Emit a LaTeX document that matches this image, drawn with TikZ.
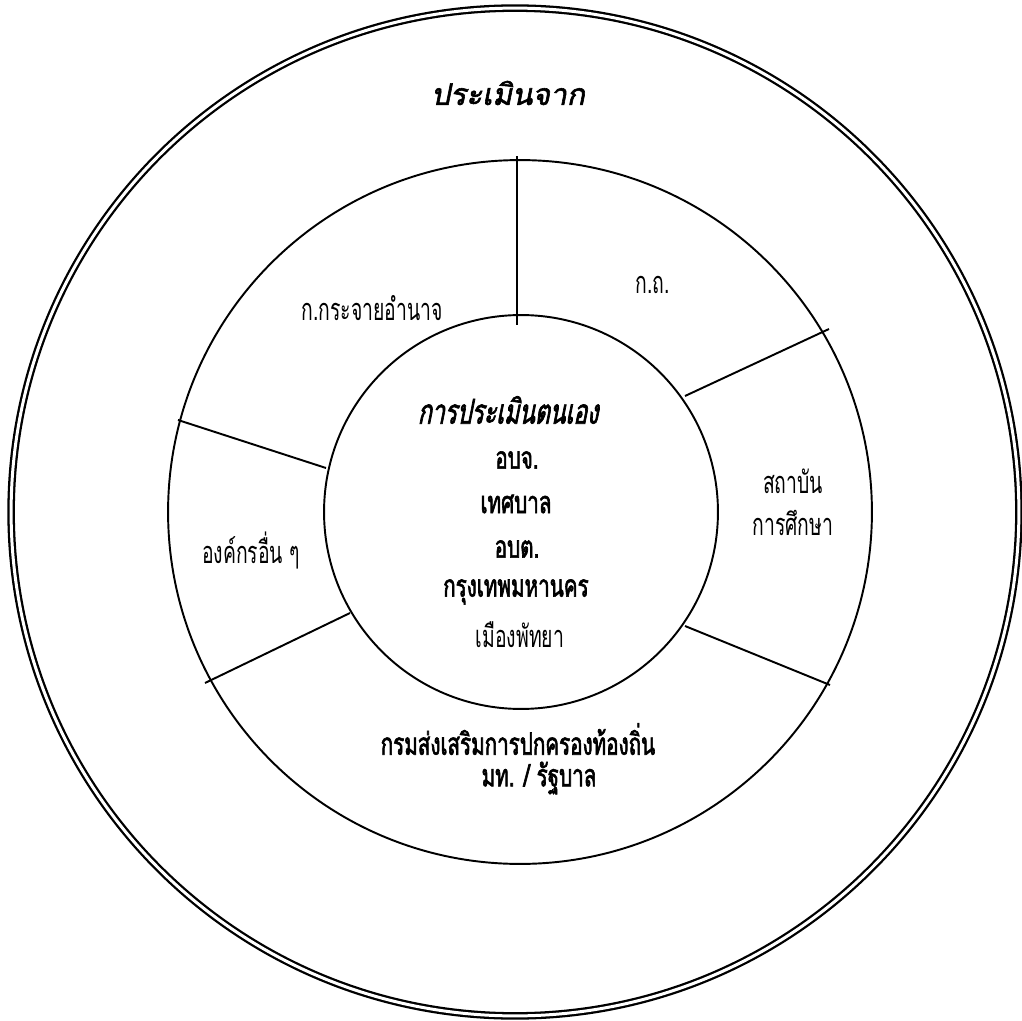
\documentclass[tikz,border=0pt]{standalone}
\usepackage{fontspec}
\usepackage{tikz}
\usetikzlibrary{positioning}
\newfontfamily\thaifont[Script=Thai, AutoFakeBold=2, AutoFakeSlant=0.2]{Loma}
\newfontfamily\thainarrow[Script=Thai, FakeStretch=0.63, AutoFakeBold=2, AutoFakeSlant=0.2]{Loma}
\newfontfamily\thaiboldnarrow[Script=Thai, FakeStretch=0.67, AutoFakeBold=2, AutoFakeSlant=0.2]{Loma}
\tikzset{
  ring/.style={circle, draw, line width=1.1pt, inner sep=0pt},
  outerring/.style={circle, draw, line width=1.3pt, double, double distance=1.7pt, inner sep=0pt},
  divider/.style={line width=1.1pt},
  lbl/.style={font=\thainarrow\fontsize{17.5}{20}\selectfont, align=center},
  boldlbl/.style={font=\thaiboldnarrow\bfseries\fontsize{17.5}{20}\selectfont, align=center},
  titlelbl/.style={font=\thaifont\bfseries\itshape\fontsize{17}{19}\selectfont}
}
\begin{document}
\begin{tikzpicture}[x=0.02cm, y=-0.02cm]
  \useasboundingbox (0,0) rectangle (1022,1021);

  % Circles
  \node[outerring, minimum size=20.16cm] (outer) at (515,512) {};
  \node[ring, minimum size=14.08cm] (ring) at (520,512) {};
  \node[ring, minimum size=7.88cm] (core) at (521,512) {};

  % Dividers of the ring
  \coordinate (d1a) at (517,156);  \coordinate (d1b) at (517,325);
  \coordinate (d2a) at (685,396);  \coordinate (d2b) at (829,329);
  \coordinate (d3a) at (178,420);  \coordinate (d3b) at (326,468);
  \coordinate (d4a) at (205,683);  \coordinate (d4b) at (350,613);
  \coordinate (d5a) at (685,626);  \coordinate (d5b) at (830,685);
  \draw[divider] (d1a) -- (d1b);
  \draw[divider] (d2a) -- (d2b);
  \draw[divider] (d3a) -- (d3b);
  \draw[divider] (d4a) -- (d4b);
  \draw[divider] (d5a) -- (d5b);

  % Outer band
  \node[titlelbl] (title) at (508,93) {ประเมินจาก};

  % Ring labels
  \node[lbl] (kradai) at (372,308) {ก.กระจายอำนาจ};
  \node[lbl] (kt) at (653,285) {ก.ถ.};
  \node[lbl] (sathaban) at (793,481) {สถาบัน};
  \node[lbl] (suksa) at (793,523) {การศึกษา};
  \node[lbl] (ongkon) at (251,550) {องค์กรอื่น ๆ};
  \node[boldlbl] (krom) at (518,739) {กรมส่งเสริมการปกครองท้องถิ่น};
  \node[boldlbl] (mt) at (539,778) {มท. / รัฐบาล};

  % Core labels
  \node[boldlbl, font=\thaiboldnarrow\bfseries\itshape\fontsize{19.5}{22}\selectfont] (self) at (508,410) {การประเมินตนเอง};
  \node[boldlbl] (obj) at (517,460) {อบจ.};
  \node[boldlbl] (tesaban) at (516,504) {เทศบาล};
  \node[boldlbl] (obt) at (517,549) {อบต.};
  \node[boldlbl] (bkk) at (516,592) {กรุงเทพมหานคร};
  \node[lbl] (pattaya) at (520,635) {เมืองพัทยา};
\end{tikzpicture}
\end{document}
